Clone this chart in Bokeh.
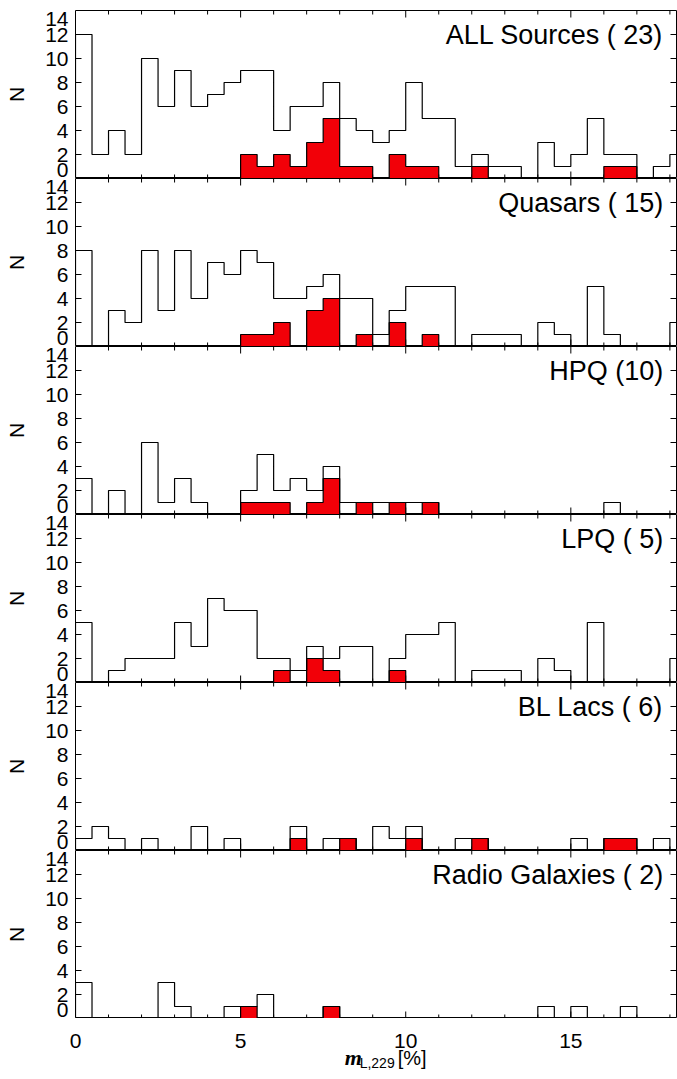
import numpy as np
from bokeh.plotting import figure
from bokeh.layouts import column
from bokeh.models import FixedTicker, Range1d, LinearAxis
from bokeh.core.properties import value
from bokeh.embed import file_html
from bokeh.resources import INLINE

FONT = "Liberation Sans"
RED = "#f20008"

# ---------------- data ----------------
bin_width = 0.5
x_ticks_major = [0, 5, 10, 15]
x_ticks_minor = [1, 2, 3, 4, 6, 7, 8, 9, 11, 12, 13, 14, 16, 17, 18]
y_ticks = [0, 2, 4, 6, 8, 10, 12, 14]
x_tick_labels = ["0", "5", "10", "15"]

titles = ["ALL Sources ( 23)", "Quasars ( 15)", "HPQ (10)", "LPQ ( 5)",
          "BL Lacs ( 6)", "Radio Galaxies ( 2)"]

# counts per 0.5-wide bin, bins start at 0
all_counts = [12, 2, 4, 2, 10, 6, 9, 6, 7, 8, 9, 9, 4, 6, 6, 8, 5, 4, 3, 4,
              8, 5, 5, 1, 2, 1, 1, 0, 3, 1, 2, 5, 2, 2, 0, 1, 2]
all_red = [0, 0, 0, 0, 0, 0, 0, 0, 0, 0, 2, 1, 2, 1, 3, 5, 1, 1, 0, 2,
           1, 1, 0, 0, 1, 0, 0, 0, 0, 0, 0, 0, 1, 1, 0, 0, 0]

qso_counts = [8, 0, 3, 2, 8, 3, 8, 4, 7, 6, 8, 7, 4, 4, 5, 6, 4, 4, 1, 3,
              5, 5, 5, 0, 1, 1, 1, 0, 2, 1, 0, 5, 1, 0, 0, 0, 2]
qso_red = [0, 0, 0, 0, 0, 0, 0, 0, 0, 0, 1, 1, 2, 0, 3, 4, 0, 1, 0, 2,
           0, 1, 0, 0, 0, 0, 0, 0, 0, 0, 0, 0, 0, 0, 0, 0, 0]

hpq_counts = [3, 0, 2, 0, 6, 1, 3, 1, 0, 0, 2, 5, 2, 3, 2, 4, 1, 1, 1, 1,
              1, 1, 0, 0, 0, 0, 0, 0, 0, 0, 0, 0, 1, 0, 0, 0, 0]
hpq_red = [0, 0, 0, 0, 0, 0, 0, 0, 0, 0, 1, 1, 1, 0, 1, 3, 0, 1, 0, 1,
           0, 1, 0, 0, 0, 0, 0, 0, 0, 0, 0, 0, 0, 0, 0, 0, 0]

lpq_counts = [5, 0, 1, 2, 2, 2, 5, 3, 7, 6, 6, 2, 2, 1, 3, 2, 3, 3, 0, 2,
              4, 4, 5, 0, 1, 1, 1, 0, 2, 1, 0, 5, 0, 0, 0, 0, 2]
lpq_red = [0, 0, 0, 0, 0, 0, 0, 0, 0, 0, 0, 0, 1, 0, 2, 1, 0, 0, 0, 1,
           0, 0, 0, 0, 0, 0, 0, 0, 0, 0, 0, 0, 0, 0, 0, 0, 0]

bll_counts = [1, 2, 1, 0, 1, 0, 0, 2, 0, 1, 0, 0, 0, 2, 0, 1, 1, 0, 2, 1,
              2, 0, 0, 1, 1, 0, 0, 0, 0, 0, 1, 0, 1, 1, 0, 1, 0]
bll_red = [0, 0, 0, 0, 0, 0, 0, 0, 0, 0, 0, 0, 0, 1, 0, 0, 1, 0, 0, 0,
           1, 0, 0, 0, 1, 0, 0, 0, 0, 0, 0, 0, 1, 1, 0, 0, 0]

rg_counts = [3, 0, 0, 0, 0, 3, 1, 0, 0, 1, 1, 2, 0, 0, 0, 1, 0, 0, 0, 0,
             0, 0, 0, 0, 0, 0, 0, 0, 1, 0, 1, 0, 0, 1, 0, 0, 0]
rg_red = [0, 0, 0, 0, 0, 0, 0, 0, 0, 0, 1, 0, 0, 0, 0, 1, 0, 0, 0, 0,
          0, 0, 0, 0, 0, 0, 0, 0, 0, 0, 0, 0, 0, 0, 0, 0, 0]

panels = [
    (titles[0], all_counts, all_red),
    (titles[1], qso_counts, qso_red),
    (titles[2], hpq_counts, hpq_red),
    (titles[3], lpq_counts, lpq_red),
    (titles[4], bll_counts, bll_red),
    (titles[5], rg_counts, rg_red),
]

# ---------------- geometry ----------------
X_MAX = 18.2
FRAME_W, FRAME_H = 601, 168
BORDER_L, BORDER_R = 75, 1
px_x = X_MAX / FRAME_W            # data units per pixel (x)
px_y = (y_ticks[-1] - y_ticks[0]) / FRAME_H


def step_xy(counts):
    c = np.asarray(counts, dtype=float)
    edges = np.arange(len(c) + 1) * bin_width
    xs = np.repeat(edges, 2)
    ys = np.concatenate([[0.0], np.repeat(c, 2), [0.0]])
    return xs, ys


xr = Range1d(0, X_MAX)
figs = []
n = len(panels)
for i, (title, counts, red) in enumerate(panels):
    top = i == 0
    p = figure(frame_width=FRAME_W, frame_height=FRAME_H,
               x_range=xr, y_range=Range1d(y_ticks[0], y_ticks[-1]),
               output_backend="svg", toolbar_location=None,
               x_axis_location=None, y_axis_location=None,
               min_border_left=BORDER_L, min_border_right=BORDER_R,
               min_border_top=10 if top else 0, min_border_bottom=0)
    p.outline_line_color = "black"
    p.outline_line_width = 1
    p.grid.visible = False
    p.background_fill_color = "white"
    p.border_fill_color = "white"

    # left axis: labels only (end labels nudged inside like the original)
    lab_ticks = [y_ticks[0] + 0.7] + y_ticks[1:-1] + [y_ticks[-1] - 0.68]
    overrides = {lab_ticks[0]: str(y_ticks[0]), lab_ticks[-1]: str(y_ticks[-1])}
    yl = LinearAxis(ticker=FixedTicker(ticks=lab_ticks, minor_ticks=[]),
                    major_tick_in=0, major_tick_out=0,
                    minor_tick_in=0, minor_tick_out=0,
                    axis_line_color=None,
                    major_label_overrides=overrides,
                    major_label_standoff=7,
                    major_label_text_font=FONT, major_label_text_font_size="21px",
                    major_label_text_color="black",
                    axis_label="N", axis_label_text_font=FONT,
                    axis_label_text_font_size="21px",
                    axis_label_text_font_style="normal",
                    axis_label_text_color="black",
                    axis_label_standoff=14)
    p.add_layout(yl, "left")

    # inward tick marks on all four sides
    xmaj = np.array(x_ticks_major[1:], dtype=float)
    xmin = np.array(x_ticks_minor, dtype=float)
    yin = np.array(y_ticks[1:-1], dtype=float)
    lmaj, lmin, ly = 7 * px_y, 4 * px_y, 6 * px_x
    y0, y1 = y_ticks[0], y_ticks[-1]
    p.segment(x0=xmaj, y0=y0, x1=xmaj, y1=y0 + lmaj, line_color="black", line_width=1)
    p.segment(x0=xmin, y0=y0, x1=xmin, y1=y0 + lmin, line_color="black", line_width=1)
    p.segment(x0=xmaj, y0=y1, x1=xmaj, y1=y1 - lmaj, line_color="black", line_width=1)
    p.segment(x0=xmin, y0=y1, x1=xmin, y1=y1 - lmin, line_color="black", line_width=1)
    p.segment(x0=0, y0=yin, x1=ly, y1=yin, line_color="black", line_width=1)
    p.segment(x0=X_MAX, y0=yin, x1=X_MAX - ly, y1=yin, line_color="black", line_width=1)

    xs, ys = step_xy(counts)
    rx, ry = step_xy(red)
    p.patch(rx, ry, fill_color=RED, line_color=None)
    p.line(xs, ys, line_color="black", line_width=1.2)
    p.line(rx, ry, line_color="black", line_width=1.2)

    p.text(x=[17.8], y=[12.0], text=[title], text_align="right",
           text_baseline="middle", text_font=value(FONT),
           text_font_size="27px", text_color="black")
    figs.append(p)

# ---------------- x tick labels and x-axis title ----------------
LAB_H = 61
TOP_B = 30
q = figure(frame_width=FRAME_W, frame_height=LAB_H - TOP_B,
           x_range=xr, y_range=Range1d(-LAB_H, -TOP_B),
           output_backend="svg", toolbar_location=None,
           x_axis_location=None, y_axis_location=None,
           min_border_left=BORDER_L, min_border_right=BORDER_R,
           min_border_top=TOP_B, min_border_bottom=0)
q.outline_line_color = None
q.grid.visible = False
q.background_fill_color = "white"
q.border_fill_color = "white"

xa = LinearAxis(ticker=FixedTicker(ticks=x_ticks_major, minor_ticks=[]),
                major_label_overrides=dict(zip(x_ticks_major, x_tick_labels)),
                axis_line_color=None, major_tick_in=0, major_tick_out=0,
                minor_tick_in=0, minor_tick_out=0,
                major_label_standoff=1,
                major_label_text_font=FONT, major_label_text_font_size="21px",
                major_label_text_color="black")
q.add_layout(xa, "above")

xt_x = 8.15
q.text(x=[xt_x], y=[-39.0], text=["m"], text_align="left", text_baseline="middle",
       text_font=value("Liberation Serif"), text_font_style="bold italic",
       text_font_size="22px", text_color="black")
q.text(x=[xt_x], y=[-44.0], x_offset=15, text=["L,229"], text_align="left",
       text_baseline="middle", text_font=value(FONT),
       text_font_size="14px", text_color="black")
q.text(x=[xt_x], y=[-39.0], x_offset=53, text=["[%]"], text_align="left",
       text_baseline="middle", text_font=value(FONT),
       text_font_size="20px", text_color="black")
figs.append(q)

layout = column(*figs, spacing=0)
open("out.html", "w").write(file_html(layout, INLINE))
